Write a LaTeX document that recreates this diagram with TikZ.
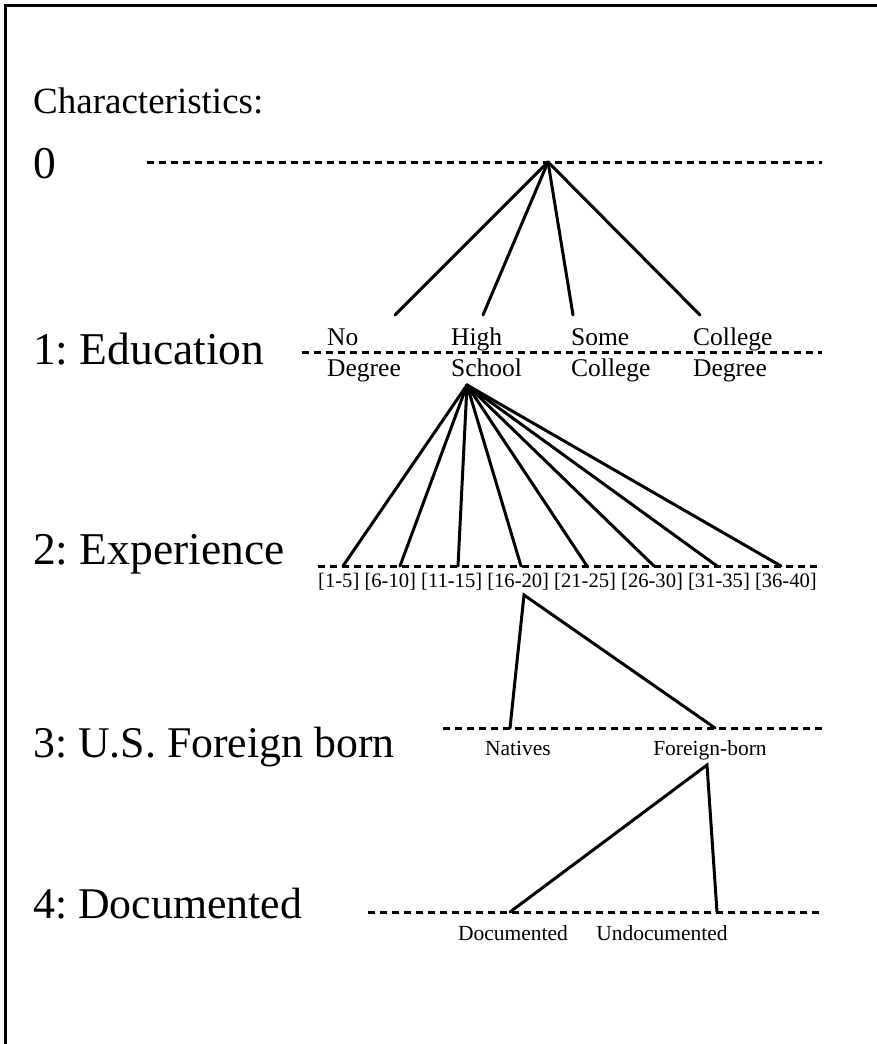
\documentclass[tikz,border=0pt]{standalone}
\usepackage{fontspec}
\setmainfont{Liberation Serif}
\frenchspacing
\begin{document}
\begin{tikzpicture}[x=1pt,y=-1pt,
  frameline/.style={line width=3pt},
  levelline/.style={line width=3pt, dash pattern=on 7pt off 5pt},
  conn/.style={line width=3pt, line cap=round},
  title/.style={font=\fontsize{37}{40}\selectfont, anchor=base west, inner sep=0pt},
  big/.style={font=\fontsize{45.5}{48}\selectfont, anchor=base west, inner sep=0pt},
  bigb/.style={font=\fontsize{43.8}{48}\selectfont, anchor=base west, inner sep=0pt},
  mid/.style={font=\fontsize{25.5}{27}\selectfont, anchor=base west, inner sep=0pt},
  small/.style={font=\fontsize{20.6}{22}\selectfont, anchor=base west, inner sep=0pt},
  lab/.style={font=\fontsize{21.5}{23}\selectfont, anchor=base, inner sep=0pt}]
\useasboundingbox (0,0) rectangle (877,1044);
% frame
\coordinate (fa) at (5,1044);
\coordinate (fb) at (5,5);
\coordinate (fc) at (877,5);
\draw[frameline] (fa) -- (fb) -- (fc);
% level titles
\node[title] (t0) at (33,113) {Characteristics:};
\node[big] (l0) at (33,178) {0};
\node[big] (l1) at (33,364) {1: Education};
\node[big] (l2) at (33,564) {2: Experience};
\node[bigb] (l3) at (33,757) {3: U.S. Foreign born};
\node[bigb] (l4) at (33,918) {4: Documented};
% dashed level lines
\coordinate (d0a) at (147,162); \coordinate (d0b) at (822,162);
\coordinate (d1a) at (302,352); \coordinate (d1b) at (822,352);
\coordinate (d2a) at (318,566); \coordinate (d2b) at (822,566);
\coordinate (d3a) at (443,728); \coordinate (d3b) at (822,728);
\coordinate (d4a) at (368,912); \coordinate (d4b) at (822,912);
\foreach \i in {0,...,4} \draw[levelline] (d\i a) -- (d\i b);
% level 1 labels
\node[mid] (n1) at (327,345) {No};
\node[mid] (n1b) at (327,376) {Degree};
\node[mid] (n2) at (451,345) {High};
\node[mid] (n2b) at (451,376) {School};
\node[mid] (n3) at (571,345) {Some};
\node[mid] (n3b) at (571,376) {College};
\node[mid] (n4) at (693,345) {College};
\node[mid] (n4b) at (693,376) {Degree};
% level 2 labels
\node[small] (exp) at (318,587) {[1-5] [6-10] [11-15] [16-20] [21-25] [26-30] [31-35] [36-40]};
% level 3 labels
\node[lab] (nat) at (518,755) {Natives};
\node[lab] (fb3) at (710,755) {Foreign-born};
% level 4 labels
\node[lab] (doc) at (513,940) {Documented};
\node[lab] (undoc) at (662,940) {Undocumented};
% connectors
\coordinate (r0) at (548,162);
\coordinate (c1) at (395,315);
\coordinate (c2) at (483,315);
\coordinate (c3) at (573,315);
\coordinate (c4) at (700,315);
\foreach \c in {c1,c2,c3,c4} \draw[conn] (r0) -- (\c);
\coordinate (r1) at (467,385);
\foreach \x [count=\k] in {343,400,458,521,587,654,717,781} {
  \coordinate (e\k) at (\x,566);
  \draw[conn] (r1) -- (e\k);
}
\coordinate (r2) at (524,595);
\coordinate (g1) at (510,728);
\coordinate (g2) at (715,728);
\draw[conn] (g1) -- (r2) -- (g2);
\coordinate (r3) at (707,765);
\coordinate (h1) at (510,912);
\coordinate (h2) at (717,912);
\draw[conn] (h1) -- (r3) -- (h2);
\end{tikzpicture}
\end{document}
